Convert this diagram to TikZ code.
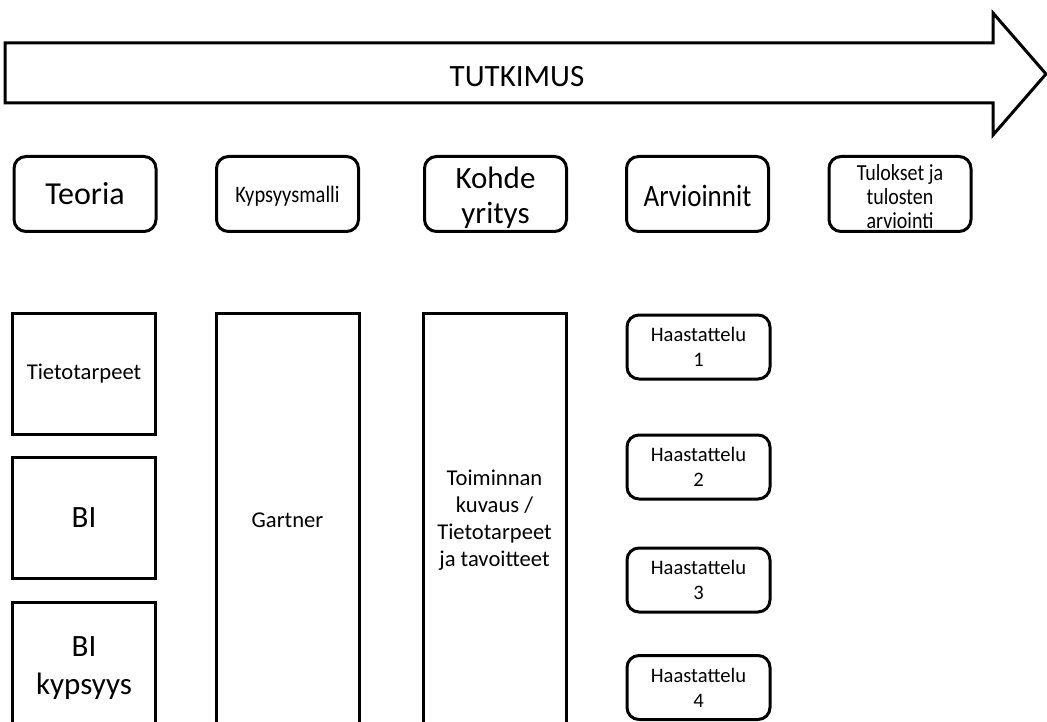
\documentclass[tikz,border=0pt]{standalone}
\usepackage{fontspec}
\usepackage{graphicx}
\setmainfont{Carlito}
% slightly taller lettering used in the phase headings
\newcommand\tallsq[2][1.15]{\scalebox{1}[#1]{#2}}
\begin{document}
\begin{tikzpicture}[x=1pt,y=-1pt,
  line width=3pt,
  box/.style={draw=black, line width=3pt, align=center, inner sep=2pt, text=black},
  label text/.style={align=center, inner sep=0pt, text=black},
  head/.style={box, rounded corners=12pt, minimum width=142pt, minimum height=75pt},
  col/.style={box, minimum width=143pt},
  talk/.style={box, rounded corners=12pt, minimum width=143pt, minimum height=64pt,
    font=\fontsize{20.6}{25}\selectfont},
  fbig/.style={font=\fontsize{31}{35}\selectfont},
  fmid/.style={font=\fontsize{22.6}{27}\selectfont}]
\useasboundingbox (0,0) rectangle (1047,722);

% research arrow
\draw[line width=3pt, line join=miter] (5,43) -- (993,43) -- (993,13) -- (1046,74)
  -- (993,135) -- (993,103) -- (5,103) -- cycle;
\node[fbig, inner sep=0pt] (tutkimus) at (517,77) {TUTKIMUS};

% phase headings
\node[head] (teoria) at (85,194) {};
\node[label text, anchor=base, font=\fontsize{32}{36}\selectfont] (teoria-t) at (85,205) {Teoria};
\node[head] (malli) at (287.5,194) {};
\node[label text, anchor=base, font=\fontsize{20.5}{24}\selectfont] (malli-t) at (287.5,203)
  {\tallsq[1.15]{Kypsyysmalli}};
\node[head] (kohde) at (495.5,194) {};
\node[label text, fbig] (kohde-t) at (495.5,198) {Kohde\\yritys};
\node[head] (arv) at (697.5,194) {};
\node[label text, anchor=base, font=\fontsize{27}{32}\selectfont] (arv-t) at (697.5,207)
  {\tallsq{Arvioinnit}};
\node[head] (tulokset) at (900,194) {};
\node[label text, font=\fontsize{20}{24}\selectfont] (tulokset-t) at (900,197)
  {\tallsq{Tulokset ja}\\\tallsq{tulosten}\\\tallsq{arviointi}};

% theory column
\node[col, fmid, minimum height=121pt] (tieto) at (84,374) {Tietotarpeet};
\node[col, fbig, minimum height=121pt] (bi) at (84,518) {BI};
\node[col, minimum height=121pt] (bikyps) at (84,663) {};
\node[label text, font=\fontsize{31}{38}\selectfont] (bikyps-t) at (84,668) {BI\\kypsyys};

% maturity model and target company
\node[col, fmid, minimum height=413pt] (gartner) at (287.5,520) {Gartner};
\node[col, fmid, minimum height=413pt] (toiminta) at (494.5,520)
  {Toiminnan\\kuvaus /\\Tietotarpeet\\ja tavoitteet};

% interviews
\node[talk] (h1) at (698.5,347) {Haastattelu\\1};
\node[talk] (h2) at (698.5,467) {Haastattelu\\2};
\node[talk] (h3) at (698.5,580) {Haastattelu\\3};
\node[talk] (h4) at (698.5,687.5) {Haastattelu\\4};
\end{tikzpicture}
\end{document}
